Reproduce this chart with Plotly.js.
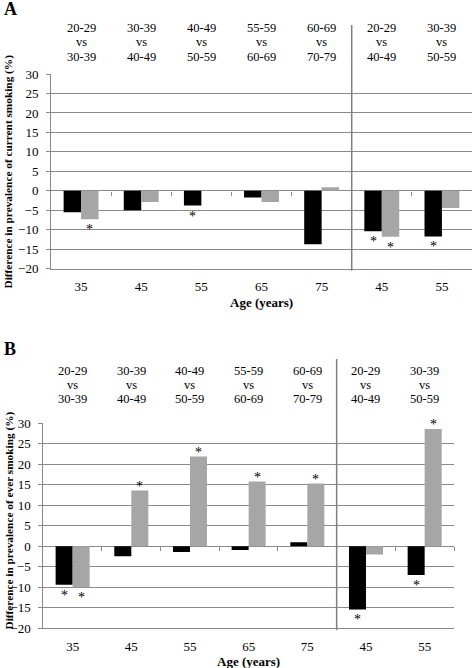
<!DOCTYPE html>
<html>
<head>
<meta charset="utf-8">
<script src="https://cdn.plot.ly/plotly-3.0.1.min.js"></script>
<style>html,body{margin:0;padding:0;background:#fff;}#chart{width:472px;height:668px;}</style>
</head>
<body>
<div id="chart"></div>
<script>
// ---- data ----
const ageLabels = ["35", "45", "55", "65", "75", "45", "55"];
const headerFrom = ["20-29", "30-39", "40-49", "55-59", "60-69", "20-29", "30-39"];
const headerTo   = ["30-39", "40-49", "50-59", "60-69", "70-79", "40-49", "50-59"];
const headerMid = "vs";
const leftGroupCount = 5;

const currentBlack = [-5.5, -5.0, -3.8, -1.7, -13.7, -10.4, -11.7];
const currentGray  = [-7.3, -2.9, 0.0, -2.9, 0.9, -11.8, -4.4];
const currentBlackSig = [0, 0, 1, 0, 0, 1, 1];
const currentGraySig  = [1, 0, 0, 0, 0, 1, 0];

const everBlack = [-9.4, -2.4, -1.4, -0.9, 1.0, -15.4, -7.0];
const everGray  = [-10.0, 13.6, 21.9, 15.8, 15.3, -2.0, 28.6];
const everBlackSig = [1, 0, 0, 0, 0, 1, 1];
const everGraySig  = [1, 1, 1, 1, 1, 0, 1];

// ---- layout helpers ----
const W = 472, H = 668;
const px = p => p / W;
const py = p => 1 - p / H;
const GRID = '#8a8a8a';
const BLACK = '#000000';
const GRAY = '#a6a6a6';
const FONT = '"Liberation Serif", "Times New Roman", serif';
const BARGAP = 0.42;
const barOffset = (1 - BARGAP) / 4;
const idx = ageLabels.map((_, i) => i);
const boundaries = idx.slice(1).map(i => i - 0.5).concat([ageLabels.length - 0.5]);
const yRange = [-20, 30];

const panels = [
  {x: 'x', y: 'y', x0: 'x3', xd: [px(51), px(472)], yd: [py(268.7), py(74)],
   black: currentBlack, gray: currentGray, bs: currentBlackSig, gs: currentGraySig,
   letter: 'A', letterY: 9, headerY: 42.5, divTop: 25, xTitleY: 302.7, yTitleY: 172,
   yTitle: 'Difference in prevalence of current smoking (%)'},
  {x: 'x2', y: 'y2', x0: 'x4', xd: [px(43.3), px(454)], yd: [py(628.3), py(423.3)],
   black: everBlack, gray: everGray, bs: everBlackSig, gs: everGraySig,
   letter: 'B', letterY: 349, headerY: 385, divTop: 359, xTitleY: 661.7, yTitleY: 521,
   yTitle: 'Difference in prevalence of ever smoking (%)'}
];

const traces = [];
const annotations = [];
const shapes = [];
const layout = {
  width: W, height: H,
  margin: {l: 0, r: 0, t: 0, b: 0},
  paper_bgcolor: '#fff', plot_bgcolor: '#fff',
  showlegend: false,
  barmode: 'group', bargap: BARGAP, bargroupgap: 0,
  font: {family: FONT, size: 13, color: '#000'},
  annotations: annotations, shapes: shapes
};

panels.forEach((p, k) => {
  const xn = k === 0 ? 'xaxis' : 'xaxis2';
  const yn = k === 0 ? 'yaxis' : 'yaxis2';
  const x0n = k === 0 ? 'xaxis3' : 'xaxis4';
  traces.push({type: 'bar', x: idx, y: p.black, xaxis: p.x, yaxis: p.y,
    marker: {color: BLACK, line: {width: 0}}, hoverinfo: 'skip'});
  traces.push({type: 'bar', x: idx, y: p.gray, xaxis: p.x, yaxis: p.y,
    marker: {color: GRAY, line: {width: 0}}, hoverinfo: 'skip'});
  // invisible helper trace so the zero-crossing tick axis is drawn
  traces.push({type: 'scatter', mode: 'markers', x: idx, y: idx.map(() => 0),
    xaxis: p.x0, yaxis: p.y, marker: {opacity: 0, size: 1}, hoverinfo: 'skip'});

  layout[xn] = {domain: p.xd, anchor: p.y, range: [-0.5, ageLabels.length - 0.5],
    tickmode: 'array', tickvals: idx, ticktext: ageLabels, ticks: '', ticklabelstandoff: 6,
    showgrid: false, zeroline: false, showline: true, linecolor: GRID, linewidth: 1,
    tickfont: {family: FONT, size: 13, color: '#000'}, fixedrange: true};
  const zeroFrac = p.yd[0] + (0 - yRange[0]) / (yRange[1] - yRange[0]) * (p.yd[1] - p.yd[0]);
  layout[x0n] = {domain: p.xd, overlaying: p.x, anchor: 'free', position: zeroFrac,
    matches: p.x, showticklabels: false, ticks: '', showgrid: false, zeroline: false,
    showline: false,
    minor: {tickmode: 'array', tickvals: boundaries, ticks: 'outside', ticklen: 4,
      tickcolor: GRID, tickwidth: 1, showgrid: false}};
  layout[yn] = {domain: p.yd, anchor: p.x, range: yRange, dtick: 5, tick0: 0,
    ticks: 'outside', ticklen: 4, tickcolor: GRID, tickwidth: 1, ticklabelstandoff: 5,
    showgrid: true, gridcolor: GRID, gridwidth: 1, zeroline: false,
    showline: true, linecolor: GRID, linewidth: 1,
    tickfont: {family: FONT, size: 13, color: '#000'}, fixedrange: true};

  // header labels, one annotation per line
  const lineGap = 14.5;
  idx.forEach(i => {
    [[headerFrom[i], -lineGap], [headerMid, 0], [headerTo[i], lineGap]].forEach(([t, dy]) =>
      annotations.push({xref: p.x, yref: 'paper', x: i, y: py(p.headerY + dy),
        text: t, showarrow: false, xanchor: 'center', yanchor: 'middle',
        font: {family: FONT, size: 12.5, color: '#000'}}));
  });
  // significance stars
  const addStars = (vals, sig, off) => vals.forEach((v, i) => {
    if (!sig[i]) return;
    annotations.push({xref: p.x, yref: p.y, x: i + off, y: v, text: '*', showarrow: false,
      xanchor: 'center', yanchor: v < 0 ? 'top' : 'bottom', yshift: v < 0 ? -1 : -5,
      font: {family: FONT, size: 14, color: '#000000'}});
  });
  addStars(p.black, p.bs, -barOffset);
  addStars(p.gray, p.gs, barOffset);
  // divider between the two comparison sets
  const divX = p.xd[0] + leftGroupCount / ageLabels.length * (p.xd[1] - p.xd[0]);
  shapes.push({type: 'line', xref: 'paper', yref: 'paper', x0: divX, x1: divX,
    y0: p.yd[0] - 2 / H, y1: py(p.divTop), line: {color: '#808080', width: 1.5}});
  // panel letter
  annotations.push({xref: 'paper', yref: 'paper', x: px(2), y: py(p.letterY), text: '<b>' + p.letter + '</b>',
    showarrow: false, xanchor: 'left', yanchor: 'middle', font: {family: FONT, size: 18, color: '#000'}});
  // axis titles
  annotations.push({xref: 'paper', yref: 'paper', x: (p.xd[0] + p.xd[1]) / 2, y: py(p.xTitleY),
    text: '<b>Age (years)</b>', showarrow: false, xanchor: 'center', yanchor: 'middle',
    font: {family: FONT, size: 13, color: '#000'}});
  annotations.push({xref: 'paper', yref: 'paper', x: px(8.5), y: py(p.yTitleY), textangle: -90,
    text: '<b>' + p.yTitle + '</b>', showarrow: false, xanchor: 'center', yanchor: 'middle',
    font: {family: FONT, size: 11.3, color: '#000'}});
});

Plotly.newPlot('chart', traces, layout, {displayModeBar: false, staticPlot: true});
</script>
</body>
</html>
